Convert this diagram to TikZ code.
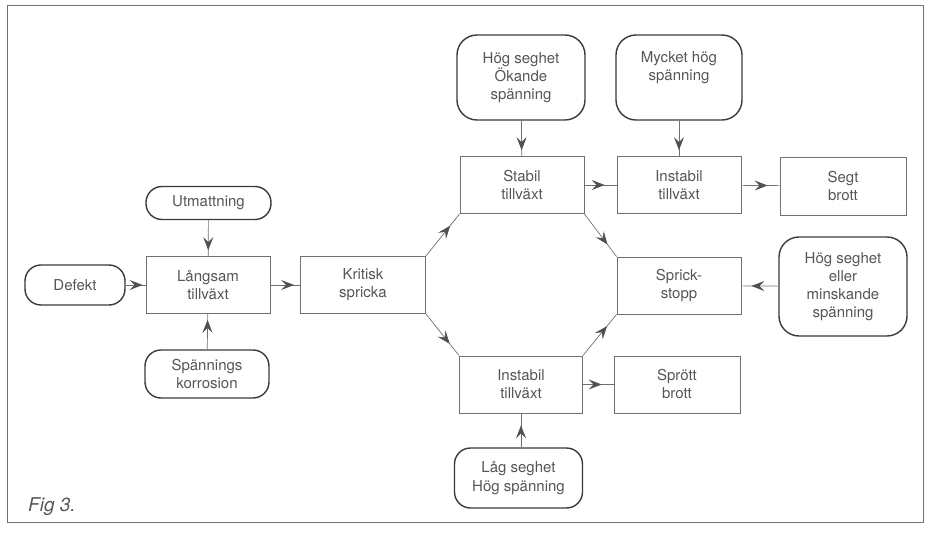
\documentclass[tikz,border=0pt]{standalone}
\usepackage{fontspec}
\setmainfont{TeX Gyre Heros}
\usetikzlibrary{arrows.meta,decorations.markings}
\definecolor{txt}{HTML}{555555}
\definecolor{ln}{HTML}{707070}
\definecolor{ah}{HTML}{505050}
\definecolor{rb}{HTML}{3A3A3A}
\begin{document}
\begin{tikzpicture}[x=1pt,y=-1pt,
  every node/.style={font=\fontsize{15}{18}\selectfont, text=txt, align=center, inner sep=0pt},
  box/.style={draw=ln, line width=0.8pt, minimum width=124pt, minimum height=57pt},
  rbox/.style={draw=rb, line width=1.4pt, rounded corners=16pt, minimum width=#1},
  rbox/.default=125pt,
  conn/.style={draw=ln, line width=0.7pt,
    postaction={decorate, decoration={markings,
      mark=at position -#1 with {\arrow[ah]{Stealth[length=13pt,width=10pt,inset=5pt]}}}}},
  conn/.default=6pt
]
\useasboundingbox (0,0) rectangle (930,535);
\draw[ln, line width=0.9pt] (7,5) rectangle (923,522);

\node[rbox=125pt, minimum height=33pt] (utm) at (208.5,203) {Utmattning};
\node[rbox=100pt, minimum height=40pt] (def) at (75,285) {Defekt};
\node[box] (lang) at (208,285) {Långsam\\tillväxt};
\node[box, minimum width=125pt] (krit) at (363,285) {Kritisk\\spricka};
\node[rbox=124pt, minimum height=48pt] (spk) at (207,374) {Spännings\\korrosion};

\node[box] (stab) at (522,185) {Stabil\\tillväxt};
\node[box] (inst1) at (679,185) {Instabil\\tillväxt};
\node[box, minimum width=126pt, minimum height=58pt] (segt) at (843,186) {Segt\\brott};
\node[rbox=128pt, minimum height=85pt, rounded corners=20pt] (hso) at (521,77.5) {Hög seghet\\Ökande\\spänning};
\node[rbox=126pt, minimum height=85pt, rounded corners=20pt] (myk) at (679,77.5) {};
\node (myktxt) at (679,68) {Mycket hög\\spänning};

\node[box] (stopp) at (679,285.5) {Sprick-\\stopp};
\node[rbox=128pt, minimum height=99pt, rounded corners=20pt] (hsm) at (843,286.5) {Hög seghet\\eller\\minskande\\spänning};

\node[box, minimum width=123pt] (inst2) at (521,384.5) {Instabil\\tillväxt};
\node[box, minimum width=126pt] (sprott) at (677,384.5) {Sprött\\brott};
\node[rbox=128pt, minimum height=60pt] (lag) at (518.5,478) {Låg seghet\\Hög spänning};

\node[font=\fontsize{19}{22}\selectfont\itshape, anchor=west] (fig) at (28,507) {Fig 3.};

\draw[conn=3pt] (def) -- (lang);
\draw[conn] (utm) -- (lang);
\draw[conn] (spk) -- (lang);
\draw[conn] (lang) -- (krit);
\draw[conn=15pt] (krit.north east) -- (stab.south west);
\draw[conn=15pt] (krit.south east) -- (inst2.north west);
\draw[conn=15pt] (stab.south east) -- (stopp.north west);
\draw[conn=15pt] (inst2.north east) -- (stopp.south west);
\draw[conn=12pt] (stab) -- (inst1);
\draw[conn=12pt] (inst1) -- (segt);
\draw[conn] (hso) -- (stab);
\draw[conn] (myk) -- (inst1);
\draw[conn=10pt] (hsm) -- (stopp);
\draw[conn=12pt] (inst2) -- (sprott);
\draw[conn=12pt] (lag.north -| inst2) -- (inst2);
\end{tikzpicture}
\end{document}
